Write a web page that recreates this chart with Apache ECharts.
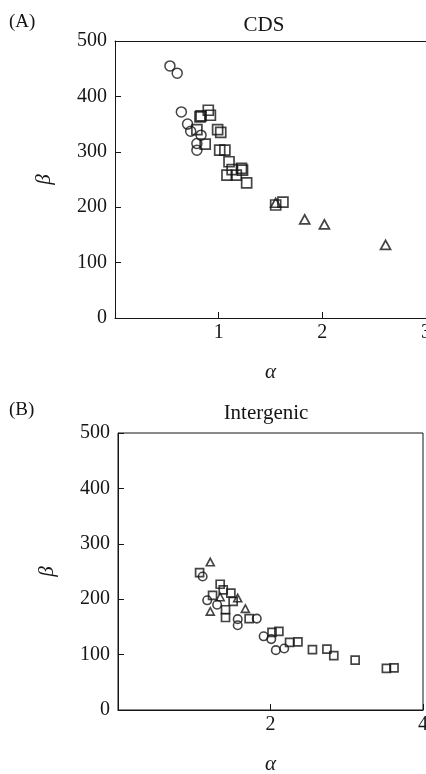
<!DOCTYPE html>
<html><head><meta charset="utf-8">
<script src="https://cdn.jsdelivr.net/npm/echarts@6/dist/echarts.min.js"></script>
<style>html,body{margin:0;padding:0;background:#fff;overflow:hidden;width:426px;height:774px}#c{width:426px;height:774px}</style>
</head><body><div id="c"></div>
<script>
// Panel A: CDS  [alpha, beta]
const cdsCircles = [[0.53,455],[0.60,442],[0.64,372],[0.70,350],[0.73,337],[0.83,330],[0.79,315],[0.79,303]];
const cdsSquares = [[0.90,375],[0.92,366],[0.82,363],[0.83,365],[0.79,340],[0.87,314],[0.99,340],[1.02,335],
  [1.01,303],[1.06,303],[1.10,282],[1.13,268],[1.08,258],[1.17,258],[1.22,270],[1.23,267],[1.27,244],[1.55,204],[1.62,209]];
const cdsTriangles = [[1.55,208],[1.83,178],[2.02,169],[2.61,132]];
// Panel B: Intergenic
const igCircles = [[1.11,241],[1.17,198],[1.30,190],[1.57,164],[1.57,153],[1.82,165],[1.91,133],[2.01,128],[2.07,108],[2.18,111]];
const igSquares = [[1.07,248],[1.24,207],[1.34,227],[1.38,217],[1.48,211],[1.51,196],[1.41,181],[1.41,167],[1.72,165],
  [2.02,140],[2.11,142],[2.25,122],[2.36,123],[2.55,109],[2.74,110],[2.83,98],[3.11,90],[3.52,75],[3.62,76]];
const igTriangles = [[1.21,267],[1.34,204],[1.21,178],[1.57,202],[1.67,183]];
const yTicksMax = 500, yStep = 100;
const xMaxA = 3, xStepA = 1, xMaxB = 4, xStepB = 2;

const FONT = "'Liberation Serif', 'DejaVu Serif', serif";
const INK = '#151515';
const chart = echarts.init(document.getElementById('c'), null, {width:426, height:774});

function ser(data, xi, yi, symbol, size, bw) {
  return {type:'scatter', xAxisIndex:xi, yAxisIndex:yi, data:data, symbol:symbol, symbolSize:size,
    itemStyle:{color:'rgba(0,0,0,0)', borderColor:INK, borderWidth:bw}, emphasis:{disabled:true}, silent:true};
}
const lab = (fs)=>({fontFamily:FONT, fontSize:fs, color:INK, fontWeight:'normal'});
function yAx(gi, name) {
  return {type:'value', gridIndex:gi, min:0, max:yTicksMax, interval:yStep,
    name:name, nameLocation:'middle', nameGap:60, nameRotate:90,
    nameTextStyle:Object.assign(lab(21),{fontStyle:'italic'}),
    axisLine:{show:true, lineStyle:{color:INK, width:1}},
    axisTick:{show:true, inside:true, length:6, lineStyle:{color:INK}},
    axisLabel:Object.assign(lab(20),{margin:8}), splitLine:{show:false}};
}
function xAx(gi, max, step, name) {
  return {type:'value', gridIndex:gi, min:0, max:max, interval:step, position:'bottom',
    name:name, nameLocation:'middle', nameGap:44,
    nameTextStyle:Object.assign(lab(21),{fontStyle:'italic'}),
    axisLine:{show:true, onZero:false, lineStyle:{color:INK, width:1}},
    axisTick:{show:true, inside:true, length:6, lineStyle:{color:INK}},
    axisLabel:Object.assign(lab(20),{margin:5, formatter:(v)=> v===0 ? '' : String(v)}),
    splitLine:{show:false}};
}

chart.setOption({
  animation:false,
  backgroundColor:'#fff',
  title:[
    {text:'(A)', left:9, top:13, padding:0, textStyle:lab(19)},
    {text:'CDS', left:264, top:15, textAlign:'center', padding:0, textStyle:lab(21)},
    {text:'(B)', left:9, top:401, padding:0, textStyle:lab(19)},
    {text:'Intergenic', left:266, top:403, textAlign:'center', padding:0, textStyle:lab(21)}
  ],
  grid:[
    {left:115, right:0, top:41, height:277, outerBoundsMode:'none', containLabel:false},
    {left:118, right:3, top:433, height:277, outerBoundsMode:'none', containLabel:false,
      show:true, borderColor:INK, borderWidth:1, backgroundColor:'rgba(0,0,0,0)'}
  ],
  xAxis:[
    xAx(0, xMaxA, xStepA, 'α'),
    {type:'value', gridIndex:0, min:0, max:xMaxA, position:'top', axisLine:{show:true, onZero:false, lineStyle:{color:INK, width:1}},
      axisTick:{show:false}, axisLabel:{show:false}, splitLine:{show:false}},
    xAx(1, xMaxB, xStepB, 'α')
  ],
  yAxis:[ yAx(0,'β'), yAx(1,'β') ],
  series:[
    ser(cdsCircles,0,0,'circle',10,1.5),
    ser(cdsSquares,0,0,'rect',10,1.7),
    ser(cdsTriangles,0,0,'triangle',[10,9],1.7),
    ser(igCircles,2,1,'circle',8.5,1.6),
    ser(igSquares,2,1,'rect',8,1.7),
    ser(igTriangles,2,1,'triangle',[8,7.5],1.6)
  ]
});
</script></body></html>
